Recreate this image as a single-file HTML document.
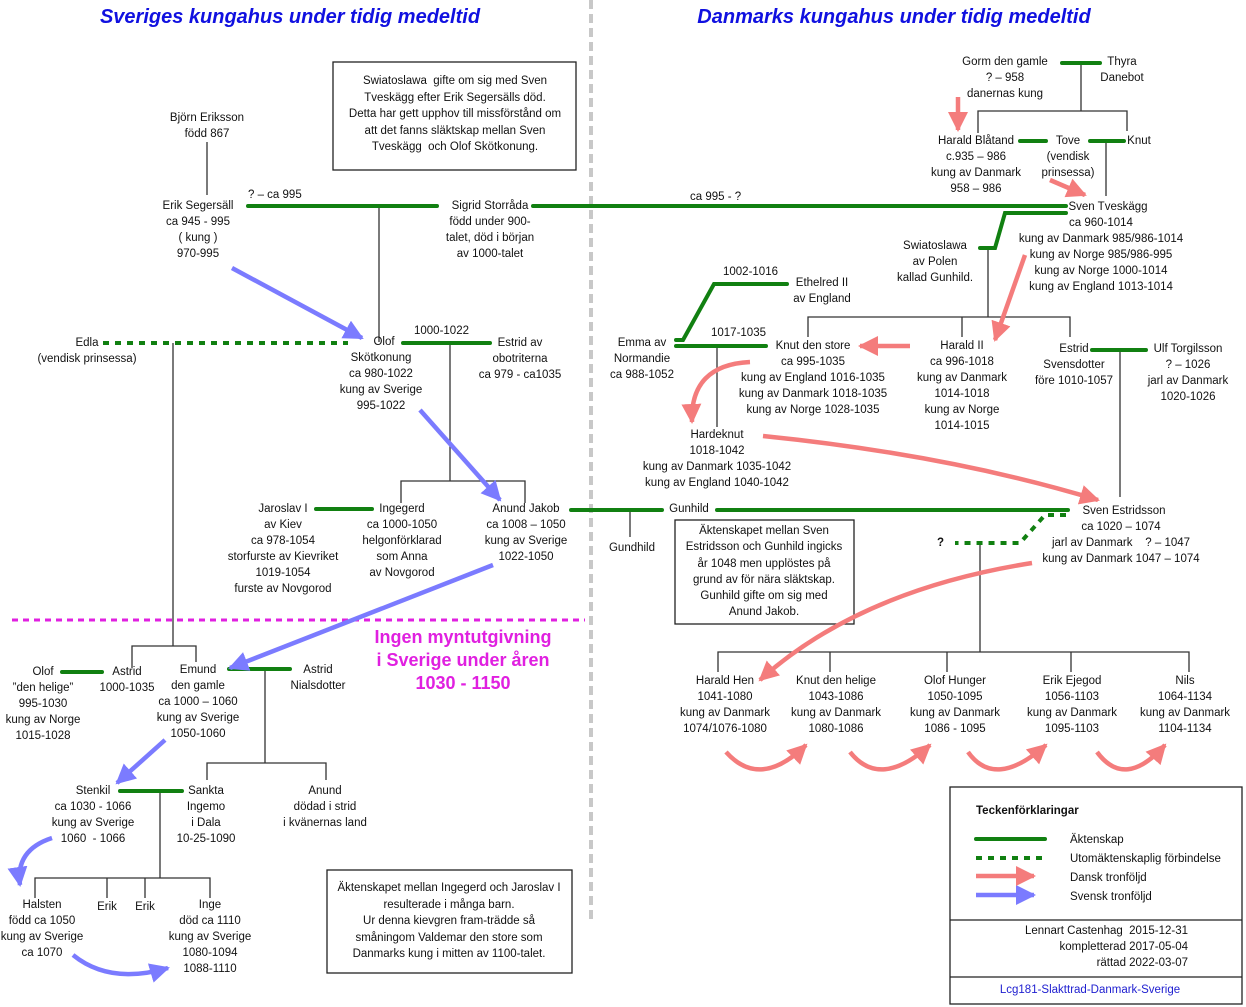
<!DOCTYPE html>
<html><head><meta charset="utf-8">
<style>
body{margin:0;background:#fff;}
#c{position:relative;width:1246px;height:1007px;overflow:hidden;font-family:"Liberation Sans",sans-serif;}
svg{position:absolute;left:0;top:0;}
.t{position:absolute;font-size:11.5px;line-height:16px;white-space:pre;text-align:center;transform:translateX(-50%);color:#111;}
.l{position:absolute;font-size:11.5px;line-height:16px;white-space:pre;color:#111;}
.h{position:absolute;font-size:20px;font-weight:bold;font-style:italic;color:#1010e0;white-space:pre;transform:translateX(-50%);}
</style></head><body><div id="c">
<svg width="1246" height="1007">
<defs>
<marker id="mb" markerUnits="userSpaceOnUse" markerWidth="22" markerHeight="22" refX="18" refY="10" orient="auto"><path d="M0,0 L20,10 L0,20 Z" fill="#7b7bff"/></marker>
<marker id="mr" markerUnits="userSpaceOnUse" markerWidth="22" markerHeight="22" refX="18" refY="10" orient="auto"><path d="M0,0 L20,10 L0,20 Z" fill="#f47c7c"/></marker>
</defs>
<line x1="591" y1="0" x2="591" y2="922" stroke="#c8c8c8" stroke-width="4" stroke-dasharray="9,5"/>
<line x1="12" y1="620" x2="585" y2="620" stroke="#e020e0" stroke-width="3" stroke-dasharray="6,5"/>
<g stroke="#333" stroke-width="1.3" fill="none">
<path d="M207 142V195"/>
<path d="M379 206V342"/>
<path d="M450 343V481M401 503V481H525V503"/>
<path d="M630 510V537"/>
<path d="M173 343V646M132 668V646H196V662"/>
<path d="M265 669V763M207 780V763H326V780"/>
<path d="M160 791V878M35 898V878H210V898M107 878V898M145 878V898"/>
<path d="M1081 63V111M978 133V111H1127V131"/>
<path d="M1106 141V196"/>
<path d="M988 248V317M808 337V317H1070V337M962 317V337"/>
<path d="M717 346V427"/>
<path d="M1120 350V497"/>
<path d="M980 543V652M718 672V652H1189V672M830 652V672M947 652V672M1071 652V672"/>
</g>
<g stroke="#222" stroke-width="1.3" fill="#fff">
<rect x="333" y="62" width="243" height="108"/>
<rect x="675" y="520" width="179" height="104"/>
<rect x="327" y="870" width="245" height="103"/>
<rect x="950" y="787" width="292" height="217"/>
<path d="M950 920H1242M950 977H1242"/>
</g>
<g stroke="#118011" stroke-width="4" fill="none" stroke-linecap="round">
<path d="M248 206H437"/>
<path d="M533 206H1066"/>
<path d="M403 343H490"/>
<path d="M316 509H372"/>
<path d="M571 510H662M717 510H1068"/>
<path d="M62 672H102"/>
<path d="M229 669H290"/>
<path d="M120 791H182"/>
<path d="M1062 63H1100"/>
<path d="M1020 141H1046M1090 141H1124"/>
<path d="M1066 213H1005L995 248H980"/>
<path d="M676 340H683L714 284H787"/>
<path d="M676 346H766"/>
<path d="M1092 350H1146"/>
<path d="M976 839H1045"/>
</g>
<g stroke="#118011" stroke-width="4" fill="none" stroke-dasharray="6,6">
<path d="M103 343H348"/>
<path d="M1066 515H1045L1020 543H955"/>
<path d="M976 858H1045"/>
</g>
<g stroke="#7b7bff" stroke-width="4.5" fill="none">
<path d="M232 268L362 338" marker-end="url(#mb)"/>
<path d="M420 410L500 500" marker-end="url(#mb)"/>
<path d="M493 565L230 668" marker-end="url(#mb)"/>
<path d="M165 740L117 783" marker-end="url(#mb)"/>
<path d="M52 838Q15 850 20 885" marker-end="url(#mb)"/>
<path d="M73 955Q110 985 168 968" marker-end="url(#mb)"/>
<path d="M976 895H1034" marker-end="url(#mb)"/>
</g>
<g stroke="#f47c7c" stroke-width="4.5" fill="none">
<path d="M958 97V130" marker-end="url(#mr)"/>
<path d="M1050 180L1085 195" marker-end="url(#mr)"/>
<path d="M1025 255L995 340" marker-end="url(#mr)"/>
<path d="M910 346H860" marker-end="url(#mr)"/>
<path d="M750 362Q690 365 692 422" marker-end="url(#mr)"/>
<path d="M763 436Q950 455 1098 500" marker-end="url(#mr)"/>
<path d="M1032 563Q860 590 760 680" marker-end="url(#mr)"/>
<path d="M726 752Q760 790 806 745" marker-end="url(#mr)"/>
<path d="M850 752Q880 790 930 745" marker-end="url(#mr)"/>
<path d="M968 752Q995 790 1046 745" marker-end="url(#mr)"/>
<path d="M1097 752Q1125 790 1165 745" marker-end="url(#mr)"/>
<path d="M976 876H1034" marker-end="url(#mr)"/>
</g>
</svg>

<div class="h" style="left:290px;top:6px">Sveriges kungahus under tidig medeltid</div>
<div class="h" style="left:894px;top:6px">Danmarks kungahus under tidig medeltid</div>

<div class="t" style="left:455px;top:73px;line-height:16.5px">Swiatoslawa  gifte om sig med Sven
Tveskägg efter Erik Segersälls död.
Detta har gett upphov till missförstånd om
att det fanns släktskap mellan Sven
Tveskägg  och Olof Skötkonung.</div>
<div class="t" style="left:207px;top:110px">Björn Eriksson
född 867</div>
<div class="t" style="left:198px;top:198px">Erik Segersäll
ca 945 - 995
( kung )
970-995</div>
<div class="l" style="left:248px;top:187px">? – ca 995</div>
<div class="t" style="left:490px;top:198px">Sigrid Storråda
född under 900-
talet, död i början
av 1000-talet</div>
<div class="l" style="left:690px;top:189px">ca 995 - ?</div>
<div class="t" style="left:87px;top:335px">Edla
(vendisk prinsessa)</div>
<div class="t" style="left:381px;top:334px"><span style="margin-left:6px">Olof</span>
Skötkonung
ca 980-1022
kung av Sverige
995-1022</div>
<div class="l" style="left:414px;top:323px">1000-1022</div>
<div class="t" style="left:520px;top:335px">Estrid av
obotriterna
ca 979 - ca1035</div>
<div class="t" style="left:283px;top:501px">Jaroslav I
av Kiev
ca 978-1054
storfurste av Kievriket
1019-1054
furste av Novgorod</div>
<div class="t" style="left:402px;top:501px">Ingegerd
ca 1000-1050
helgonförklarad
som Anna
av Novgorod</div>
<div class="t" style="left:526px;top:501px">Anund Jakob
ca 1008 – 1050
kung av Sverige
1022-1050</div>
<div class="t" style="left:632px;top:540px">Gundhild</div>
<div class="t" style="left:689px;top:501px">Gunhild</div>
<div class="t" style="left:463px;top:626px;font-size:18px;line-height:23px;font-weight:bold;color:#e020e0">Ingen myntutgivning
i Sverige under åren
1030 - 1150</div>
<div class="t" style="left:43px;top:664px">Olof
”den helige”
995-1030
kung av Norge
1015-1028</div>
<div class="t" style="left:127px;top:664px">Astrid
1000-1035</div>
<div class="t" style="left:198px;top:662px">Emund
den gamle
ca 1000 – 1060
kung av Sverige
1050-1060</div>
<div class="t" style="left:318px;top:662px">Astrid
Nialsdotter</div>
<div class="t" style="left:93px;top:783px">Stenkil
ca 1030 - 1066
kung av Sverige
1060  - 1066</div>
<div class="t" style="left:206px;top:783px">Sankta
Ingemo
i Dala
10-25-1090</div>
<div class="t" style="left:325px;top:783px">Anund
dödad i strid
i kvänernas land</div>
<div class="t" style="left:42px;top:897px">Halsten
född ca 1050
kung av Sverige
ca 1070</div>
<div class="t" style="left:107px;top:899px">Erik</div>
<div class="t" style="left:145px;top:899px">Erik</div>
<div class="t" style="left:210px;top:897px">Inge
död ca 1110
kung av Sverige
1080-1094
1088-1110</div>
<div class="t" style="left:449px;top:880px;line-height:16.5px">Äktenskapet mellan Ingegerd och Jaroslav I
resulterade i många barn.
Ur denna kievgren fram-trädde så
småningom Valdemar den store som
Danmarks kung i mitten av 1100-talet.</div>

<div class="t" style="left:1005px;top:54px">Gorm den gamle
? – 958
danernas kung</div>
<div class="t" style="left:1122px;top:54px">Thyra
Danebot</div>
<div class="t" style="left:976px;top:133px">Harald Blåtand
c.935 – 986
kung av Danmark
958 – 986</div>
<div class="t" style="left:1068px;top:133px">Tove
(vendisk
prinsessa)</div>
<div class="t" style="left:1139px;top:133px">Knut</div>
<div class="t" style="left:1101px;top:199px"><span style="margin-left:14px">Sven Tveskägg</span>
ca 960-1014
kung av Danmark 985/986-1014
kung av Norge 985/986-995
kung av Norge 1000-1014
kung av England 1013-1014</div>
<div class="t" style="left:935px;top:238px">Swiatoslawa
av Polen
kallad Gunhild.</div>
<div class="l" style="left:723px;top:264px">1002-1016</div>
<div class="t" style="left:822px;top:275px">Ethelred II
av England</div>
<div class="t" style="left:642px;top:335px">Emma av
Normandie
ca 988-1052</div>
<div class="l" style="left:711px;top:325px">1017-1035</div>
<div class="t" style="left:813px;top:338px">Knut den store
ca 995-1035
kung av England 1016-1035
kung av Danmark 1018-1035
kung av Norge 1028-1035</div>
<div class="t" style="left:962px;top:338px">Harald II
ca 996-1018
kung av Danmark
1014-1018
kung av Norge
1014-1015</div>
<div class="t" style="left:1074px;top:341px">Estrid
Svensdotter
före 1010-1057</div>
<div class="t" style="left:1188px;top:341px">Ulf Torgilsson
? – 1026
jarl av Danmark
1020-1026</div>
<div class="t" style="left:717px;top:427px">Hardeknut
1018-1042
kung av Danmark 1035-1042
kung av England 1040-1042</div>
<div class="t" style="left:1121px;top:503px"><span style="margin-left:6px">Sven Estridsson</span>
ca 1020 – 1074
jarl av Danmark    ? – 1047
kung av Danmark 1047 – 1074</div>
<div class="l" style="left:937px;top:535px;font-weight:bold">?</div>
<div class="t" style="left:764px;top:523px;line-height:16.3px">Äktenskapet mellan Sven
Estridsson och Gunhild ingicks
år 1048 men upplöstes på
grund av för nära släktskap.
Gunhild gifte om sig med
Anund Jakob.</div>
<div class="t" style="left:725px;top:673px">Harald Hen
1041-1080
kung av Danmark
1074/1076-1080</div>
<div class="t" style="left:836px;top:673px">Knut den helige
1043-1086
kung av Danmark
1080-1086</div>
<div class="t" style="left:955px;top:673px">Olof Hunger
1050-1095
kung av Danmark
1086 - 1095</div>
<div class="t" style="left:1072px;top:673px">Erik Ejegod
1056-1103
kung av Danmark
1095-1103</div>
<div class="t" style="left:1185px;top:673px">Nils
1064-1134
kung av Danmark
1104-1134</div>

<div class="l" style="left:976px;top:803px;font-weight:bold">Teckenförklaringar</div>
<div class="l" style="left:1070px;top:831px;line-height:19px">Äktenskap
Utomäktenskaplig förbindelse
Dansk tronföljd
Svensk tronföljd</div>
<div class="l" style="left:1000px;top:923px;text-align:right;width:188px">Lennart Castenhag  2015-12-31
kompletterad 2017-05-04
rättad 2022-03-07</div>
<div class="t" style="left:1090px;top:982px;color:#2020d0">Lcg181-Slakttrad-Danmark-Sverige</div>
</div></body></html>
